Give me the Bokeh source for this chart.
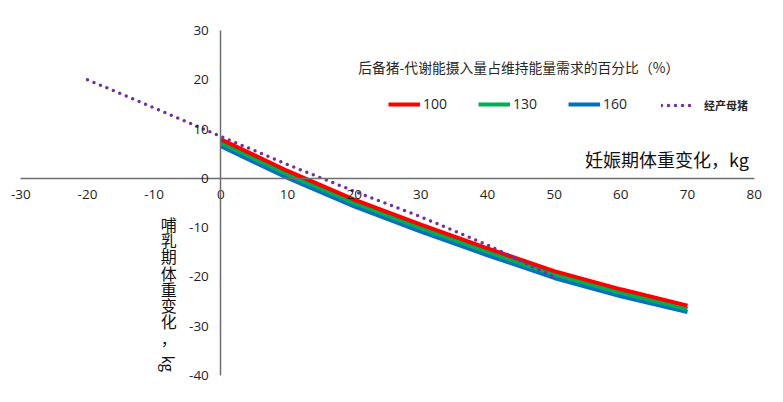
from bokeh.plotting import figure
from bokeh.models import (LinearAxis, SingleIntervalTicker, Legend, LegendItem, Label,
                          PrintfTickFormatter)
from bokeh.embed import file_html
from bokeh.resources import INLINE

# ---- data ----
x_gilt = [0, 10, 20, 30, 40, 50, 60, 70]
y_100 = [7.9, 1.5, -4.3, -9.4, -14.2, -18.8, -22.5, -25.8]
y_130 = [7.2, 0.8, -5.0, -10.1, -14.9, -19.5, -23.2, -26.5]
y_160 = [6.5, 0.1, -5.7, -10.8, -15.6, -20.2, -23.9, -27.1]
x_sow = [-20, -10, 0, 10, 20, 30, 40, 50]
y_sow = [20.0, 14.3, 8.5, 2.8, -2.6, -7.8, -13.5, -20.0]
series_labels = ["100", "130", "160"]
sow_label = "经产母猪"
legend_title = "后备猪-代谢能摄入量占维持能量需求的百分比（%）"
x_title = "妊娠期体重变化，kg"
y_title_chars = "哺乳期体重变化，"
y_title_tail = "kg"
x_bounds = (-30, 80)
y_bounds = (-40, 30)

RED, GREEN, BLUE, PURPLE = "#FF0000", "#00B050", "#0070C0", "#7030A0"
CJK = "Noto Sans CJK SC"

p = figure(frame_width=760, frame_height=365, x_range=(-32, 82), y_range=(-42, 32),
           output_backend="svg", toolbar_location=None,
           x_axis_location=None, y_axis_location=None,
           min_border_left=7, min_border_right=8, min_border_top=20, min_border_bottom=9)
p.outline_line_color = None
p.xgrid.visible = False
p.ygrid.visible = False

def style_axis(ax):
    ax.axis_line_color = "#6e6e6e"
    ax.axis_line_width = 1.5
    ax.major_tick_line_color = None
    ax.minor_tick_line_color = None
    ax.major_label_text_font = "Open Sans"
    ax.major_label_text_font_size = "13.5px"
    ax.major_label_text_color = "#1e1e1e"
    ax.formatter = PrintfTickFormatter(format="%d")

xa = LinearAxis(fixed_location=0, ticker=SingleIntervalTicker(interval=10), bounds=x_bounds)
style_axis(xa)
xa.major_label_standoff = 6
p.add_layout(xa, "below")
ya = LinearAxis(fixed_location=0, ticker=SingleIntervalTicker(interval=10), bounds=y_bounds)
style_axis(ya)
ya.major_label_standoff = 6
p.add_layout(ya, "left")

r_blue = p.line(x_gilt, y_160, line_color=BLUE, line_width=4)
r_green = p.line(x_gilt, y_130, line_color=GREEN, line_width=4)
r_red = p.line(x_gilt, y_100, line_color=RED, line_width=4)
r_sow = p.line(x_sow, y_sow, line_color=PURPLE, line_width=3.5,
               line_dash="0 7", line_cap="round")

leg1 = Legend(items=[LegendItem(label=series_labels[0], renderers=[r_red]),
                     LegendItem(label=series_labels[1], renderers=[r_green]),
                     LegendItem(label=series_labels[2], renderers=[r_blue])],
              orientation="horizontal", location=(381, 272),
              glyph_width=32, glyph_height=16, label_standoff=3, spacing=31,
              padding=0, margin=0, border_line_color=None, background_fill_alpha=0,
              label_text_font="Open Sans", label_text_font_size="14px",
              label_text_color="#262626")
leg2 = Legend(items=[LegendItem(label=sow_label, renderers=[r_sow])],
              orientation="horizontal", location=(654, 272),
              glyph_width=33, glyph_height=16, label_standoff=10,
              padding=0, margin=0, border_line_color=None, background_fill_alpha=0,
              label_text_font=CJK, label_text_font_size="11px",
              label_text_font_style="bold", label_text_color="#262626")
p.add_layout(leg1)
p.add_layout(leg2)

p.add_layout(Label(x=20.6, y=22.5, text=legend_title, text_font=CJK,
                   text_font_size="13.8px", text_baseline="middle", text_color="#262626"))
p.add_layout(Label(x=79.2, y=4.0, text=x_title, text_font=CJK, text_font_size="18px",
                   text_align="right", text_baseline="middle", text_color="#111111"))
for i, ch in enumerate(y_title_chars):
    p.add_layout(Label(x=-7.8, y=-9.2 - i * 3.3, text=ch, text_font=CJK,
                       text_font_size="16px", text_align="center",
                       text_baseline="middle", text_color="#111111"))
p.add_layout(Label(x=-7.8, y=-37.6, text=y_title_tail, text_font=CJK,
                   text_font_size="15px", text_align="center", angle=-1.5708,
                   text_baseline="middle", text_color="#111111"))

open("out.html", "w").write(file_html(p, INLINE))
